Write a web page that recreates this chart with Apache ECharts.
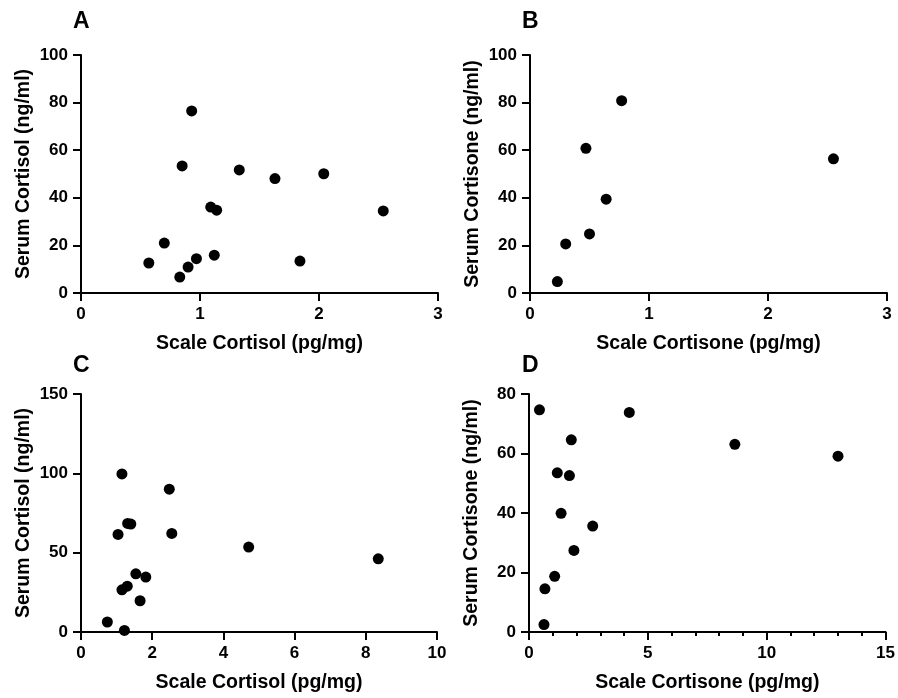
<!DOCTYPE html>
<html>
<head>
<meta charset="utf-8">
<script src="https://cdn.jsdelivr.net/npm/echarts@6/dist/echarts.min.js"></script>
<style>
  html, body { margin: 0; padding: 0; background: #fff; }
  #chart { width: 898px; height: 698px; }
</style>
</head>
<body>
<div id="chart"></div>
<script>
// panel A: scale cortisol vs serum cortisol
var aScale = [0.57, 0.70, 0.83, 0.90, 0.85, 0.93, 0.97, 1.09, 1.14, 1.12, 1.33, 1.63, 1.84, 2.04, 2.54];
var aSerum = [12.6, 21.0, 6.7, 10.9, 53.4, 76.5, 14.4, 36.1, 34.8, 15.9, 51.7, 48.1, 13.4, 50.1, 34.5];
// panel B: scale cortisone vs serum cortisone
var bScale = [0.23, 0.30, 0.50, 0.47, 0.64, 0.77, 2.55];
var bSerum = [4.8, 20.6, 24.8, 60.8, 39.4, 80.8, 56.4];
// panel C
var cScale = [0.74, 1.22, 1.15, 1.04, 1.15, 1.30, 1.31, 1.40, 1.54, 1.66, 1.82, 2.48, 2.55, 4.71, 8.35];
var cSerum = [6.3, 1.0, 99.6, 61.5, 26.6, 28.9, 68.4, 68.0, 36.7, 19.7, 34.6, 90.0, 62.1, 53.5, 46.1];
// panel D
var dScale = [0.44, 0.63, 0.67, 1.08, 1.19, 1.35, 1.70, 1.78, 1.89, 2.68, 4.22, 8.66, 13.0];
var dSerum = [74.7, 2.5, 14.5, 18.7, 53.5, 39.9, 52.6, 64.6, 27.4, 35.6, 73.8, 63.1, 59.1];

var panelLetters = ["A", "B", "C", "D"];
var xTitles = ["Scale Cortisol (pg/mg)", "Scale Cortisone (pg/mg)", "Scale Cortisol (pg/mg)", "Scale Cortisone (pg/mg)"];
var yTitles = ["Serum Cortisol (ng/ml)", "Serum Cortisone (ng/ml)", "Serum Cortisol (ng/ml)", "Serum Cortisone (ng/ml)"];
var xMax = [3, 3, 10, 15];
var xStep = [1, 1, 2, 5];
var yMax = [100, 100, 150, 80];
var yStep = [20, 20, 50, 20];

var FONT = "'Liberation Sans', Arial, sans-serif";

function pairs(xs, ys) {
  return xs.map(function (x, i) { return [x, ys[i]]; });
}
var allData = [pairs(aScale, aSerum), pairs(bScale, bSerum), pairs(cScale, cSerum), pairs(dScale, dSerum)];

var grids = [
  { left: 81, top: 55, width: 357, height: 238 },
  { left: 530, top: 55, width: 357, height: 238 },
  { left: 81, top: 394, width: 356, height: 238 },
  { left: 529, top: 394, width: 357, height: 238 }
];

var lineStyle = { color: "#000", width: 2 };

var xAxes = [], yAxes = [], series = [], titles = [];
for (var i = 0; i < 4; i++) {
  xAxes.push({
    type: "value",
    gridIndex: i,
    min: 0,
    max: xMax[i],
    interval: xStep[i],
    name: xTitles[i],
    nameLocation: "middle",
    nameGap: 41,
    nameTextStyle: { color: "#000", fontSize: 19.5, fontWeight: "bold", fontFamily: FONT },
    axisLine: { show: true, onZero: false, lineStyle: lineStyle },
    axisTick: { show: true, inside: false, length: 8, lineStyle: lineStyle },
    minorTick: { show: i === 3, splitNumber: 5, length: 4, lineStyle: lineStyle },
    axisLabel: { color: "#000", fontSize: 17, fontWeight: "bold", fontFamily: FONT, margin: 13 },
    splitLine: { show: false }
  });
  yAxes.push({
    type: "value",
    gridIndex: i,
    min: 0,
    max: yMax[i],
    interval: yStep[i],
    name: yTitles[i],
    nameLocation: "middle",
    nameGap: 47,
    nameTextStyle: { color: "#000", fontSize: 19.5, fontWeight: "bold", fontFamily: FONT },
    axisLine: { show: true, onZero: false, lineStyle: lineStyle },
    axisTick: { show: true, inside: false, length: 8, lineStyle: lineStyle },
    axisLabel: { color: "#000", fontSize: 17, fontWeight: "bold", fontFamily: FONT, margin: 13 },
    splitLine: { show: false }
  });
  series.push({
    type: "scatter",
    xAxisIndex: i,
    yAxisIndex: i,
    data: allData[i],
    symbol: "circle",
    symbolSize: 11,
    clip: false,
    itemStyle: { color: "#000", opacity: 1 },
    z: 5
  });
  titles.push({
    text: panelLetters[i],
    left: i % 2 === 0 ? 73 : 522,
    top: i < 2 ? 10 : 354,
    padding: 0,
    textStyle: { color: "#000", fontSize: 23, fontWeight: "bold", fontFamily: FONT }
  });
}

var chart = echarts.init(document.getElementById("chart"), null, { renderer: "canvas" });
chart.setOption({
  animation: false,
  backgroundColor: "#fff",
  title: titles,
  grid: grids,
  xAxis: xAxes,
  yAxis: yAxes,
  series: series
});
</script>
</body>
</html>
